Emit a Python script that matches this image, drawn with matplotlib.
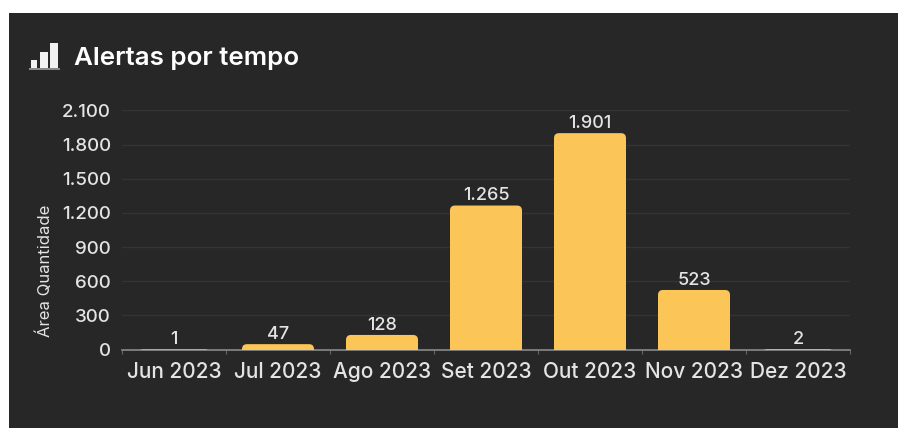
import matplotlib
matplotlib.use("Agg")
import matplotlib.pyplot as plt
from matplotlib.patches import FancyBboxPatch, Rectangle

months = ["Jun 2023", "Jul 2023", "Ago 2023", "Set 2023", "Out 2023", "Nov 2023", "Dez 2023"]
alerts = [1, 47, 128, 1265, 1901, 523, 2]
value_labels = ["1", "47", "128", "1.265", "1.901", "523", "2"]
y_ticks = [0, 300, 600, 900, 1200, 1500, 1800, 2100]
y_tick_labels = ["0", "300", "600", "900", "1.200", "1.500", "1.800", "2.100"]

W, H = 898, 428
BG = "#272727"
BAR = "#fcc558"
TEXT = "#e4e4e4"

plt.rcParams["font.family"] = ["Inter", "DejaVu Sans"]
plt.rcParams["font.weight"] = "medium"


def px_rect(x0, y0, x1, y1):
    # pixel box measured from the top left -> figure fraction rect
    return [x0 / W, 1 - y1 / H, (x1 - x0) / W, (y1 - y0) / H]


def main():
    fig = plt.figure(figsize=(W / 100, H / 100), dpi=100, facecolor="white")

    # dark card behind everything
    fig.add_artist(Rectangle((9 / W, 0), (W - 9) / W, 1 - 13 / H, transform=fig.transFigure,
                             facecolor=BG, edgecolor="none", zorder=-1))

    # small bar-chart icon next to the title
    for x0, y0, x1 in [(31, 60, 37), (40, 52, 48), (50, 43, 58)]:
        fig.add_artist(Rectangle((x0 / W, 1 - 68 / H), (x1 - x0) / W, (68 - y0) / H,
                                 transform=fig.transFigure, facecolor="#f2f2f2", edgecolor="none"))
    fig.add_artist(Rectangle((29 / W, 1 - 69.5 / H), 31 / W, 1 / H, transform=fig.transFigure,
                             facecolor="#8a8a8a", edgecolor="none"))
    fig.text(74 / W, 1 - 58.5 / H, "Alertas por tempo", color="white", fontsize=18.7,
             fontweight="semibold", va="center", ha="left")

    ax = fig.add_axes(px_rect(122, 110.5, 850, 349.5))
    ax.set_facecolor("none")
    ax.set_xlim(-0.5, len(months) - 0.5)
    ax.set_ylim(0, 2100)

    px_x = 728 / len(months)
    px_y = 239 / 2100
    radius = 5 / px_x
    aspect = px_x / px_y

    # rounded top corners; the lower corners hang below zero and get clipped by the axes
    bars = ax.bar(range(len(months)), alerts, width=72 / px_x, alpha=0)
    for bar, value, label in zip(bars, alerts, value_labels):
        drop = radius * aspect
        ax.add_patch(FancyBboxPatch((bar.get_x(), -drop), bar.get_width(), value + drop,
                                    boxstyle=f"round,pad=0,rounding_size={radius}",
                                    mutation_aspect=aspect, facecolor=BAR, edgecolor="none",
                                    zorder=3))
        ax.annotate(label, (bar.get_x() + bar.get_width() / 2, value), xytext=(0, 1),
                    textcoords="offset points", ha="center", va="bottom",
                    color=TEXT, fontsize=13, zorder=4)

    ax.set_yticks(y_ticks, y_tick_labels)
    ax.grid(axis="y", color="#343434", linewidth=1)
    ax.set_axisbelow(True)
    ax.tick_params(axis="y", length=0, pad=8, labelsize=13.5, labelcolor=TEXT)

    # ticks sit on the band edges, labels in the band centres
    ax.set_xticks([i - 0.5 for i in range(len(months) + 1)], [""] * (len(months) + 1))
    ax.set_xticks(range(len(months)), months, minor=True)
    ax.tick_params(axis="x", which="major", length=3, width=0.8, color="#666666")
    ax.tick_params(axis="x", which="minor", length=0, pad=9, labelsize=15, labelcolor=TEXT)

    for side in ["top", "right", "left"]:
        ax.spines[side].set_visible(False)
    ax.spines["bottom"].set_color("#8a8a8a")
    ax.spines["bottom"].set_linewidth(1.2)

    ax.set_ylabel("Área Quantidade", color=TEXT, fontsize=12)
    ax.yaxis.set_label_coords((53 - 122) / 728, (349.5 - 271) / 239)

    fig.savefig("out.png", dpi=100, facecolor="white")


if __name__ == "__main__":
    main()
